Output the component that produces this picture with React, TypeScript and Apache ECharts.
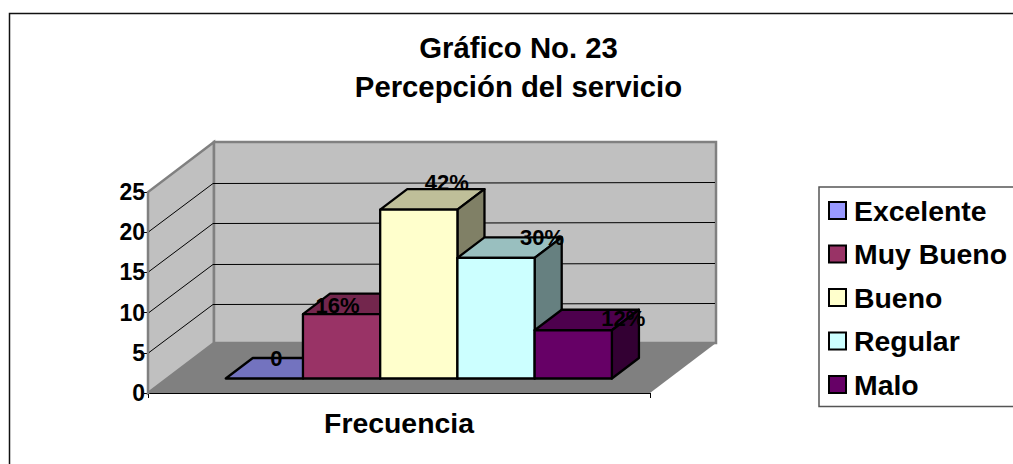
import React, { useEffect, useRef } from "react";
import * as echarts from "echarts";

const titleLines = ["Gráfico No. 23", "Percepción del servicio"];
const xCategories = ["Frecuencia"];
const categories = ["Excelente", "Muy Bueno", "Bueno", "Regular", "Malo"];
const frecuencia = [0, 8, 21, 15, 6];
const percentLabels = ["0", "16%", "42%", "30%", "12%"];
const yTicks = [0, 5, 10, 15, 20, 25];
const frontColors = ["#9999ff", "#993366", "#ffffcc", "#ccffff", "#660066"];
const topColors = ["#7373bf", "#73264d", "#bfbf99", "#99bfbf", "#4d004d"];
const sideColors = ["#4d4d80", "#4d1a33", "#808066", "#668080", "#330033"];
const labelOffsets = [[12, -20], [-4, -9], [28, -27], [46, -20], [50, -12]];

const FONT = "'Liberation Sans', Arial, sans-serif";
const DEPTH_X = 66;
const DEPTH_Y = -50;

function wallsRender(params: any, api: any) {
  const cs = params.coordSys;
  const x0 = cs.x;
  const x1 = cs.x + cs.width;
  const yB = api.coord([0, 0])[1];
  const yT = api.coord([0, 25])[1];
  const children: any[] = [
    {
      type: "polygon",
      shape: { points: [[x0, yB], [x0, yT], [x0 + DEPTH_X, yT + DEPTH_Y], [x0 + DEPTH_X, yB + DEPTH_Y]] },
      style: { fill: "#c0c0c0", stroke: "#808080", lineWidth: 2.5 },
    },
    {
      type: "polygon",
      shape: {
        points: [
          [x0 + DEPTH_X, yB + DEPTH_Y],
          [x0 + DEPTH_X, yT + DEPTH_Y],
          [x1 + DEPTH_X, yT + DEPTH_Y],
          [x1 + DEPTH_X, yB + DEPTH_Y],
        ],
      },
      style: { fill: "#c0c0c0", stroke: "#808080", lineWidth: 2.5 },
    },
    {
      type: "polygon",
      shape: { points: [[x0, yB], [x0 + DEPTH_X, yB + DEPTH_Y], [x1 + DEPTH_X, yB + DEPTH_Y], [x1, yB]] },
      style: { fill: "#808080", stroke: "none" },
    },
  ];
  yTicks.slice(1, -1).forEach((t) => {
    const y = Math.round(api.coord([0, t])[1]) + 0.5;
    children.push({
      type: "polyline",
      shape: { points: [[x0 + 1, y - 1], [x0 + DEPTH_X - 1, y + DEPTH_Y + 1], [x1 + DEPTH_X - 1, y + DEPTH_Y]] },
      style: { fill: "none", stroke: "#000", lineWidth: 1 },
    });
  });
  return { type: "group", children };
}

function barRender(index: number) {
  return (params: any, api: any) => {
    const catW = api.size([1, 0])[0];
    const barW = catW / 6.5;
    const center = api.coord([0, 0])[0];
    const base = api.coord([0, 0])[1] + DEPTH_Y * 0.29;
    const h = api.coord([0, 0])[1] - api.coord([0, api.value(1)])[1];
    const dx = DEPTH_X * 0.41;
    const dy = DEPTH_Y * 0.41;
    const l = center + DEPTH_X * 0.3 + (index - 2.5) * barW;
    const r = l + barW;
    const t = base - h;
    const edge = { stroke: "#000", lineWidth: 2.3, lineJoin: "round" };
    const children: any[] = [
      {
        type: "polygon",
        shape: { points: [[l, t], [l + dx, t + dy], [r + dx, t + dy], [r, t]] },
        style: { fill: topColors[index], ...edge },
      },
    ];
    if (h > 0) {
      children.push({
        type: "polygon",
        shape: { points: [[r, t], [r + dx, t + dy], [r + dx, base + dy], [r, base]] },
        style: { fill: sideColors[index], ...edge },
      });
    }
    children.push({
      type: "text",
      style: {
        text: percentLabels[index],
        x: (l + r) / 2 + labelOffsets[index][0],
        y: t + labelOffsets[index][1],
        align: "center",
        verticalAlign: "middle",
        fill: "#000",
        font: `bold 22px ${FONT}`,
      },
    });
    if (h > 0) {
      children.push({
        type: "polygon",
        shape: { points: [[l, t], [r, t], [r, base], [l, base]] },
        style: { fill: frontColors[index], ...edge },
      });
    }
    return { type: "group", children };
  };
}

export default function App() {
  const ref = useRef<HTMLDivElement>(null);
  useEffect(() => {
    const chart = echarts.init(ref.current!, undefined, { renderer: "svg" });
    chart.setOption({
      animation: false,
      backgroundColor: "#ffffff",
      title: {
        text: titleLines.join("\n"),
        left: 513.5,
        top: 23,
        textAlign: "center",
        textStyle: { fontFamily: FONT, fontWeight: "bold", fontSize: 29.3, lineHeight: 39, color: "#000" },
      },
      legend: {
        orient: "vertical",
        left: 819,
        top: 187,
        data: categories,
        icon: "rect",
        itemWidth: 17,
        itemHeight: 17,
        itemGap: 15.5,
        padding: [9.5, 20, 8, 9],
        borderColor: "#555",
        borderWidth: 1.5,
        backgroundColor: "#fff",
        selectedMode: false,
        itemStyle: { borderColor: "#000", borderWidth: 2 },
        textStyle: {
          fontFamily: FONT,
          fontWeight: "bold",
          fontSize: 28.4,
          color: "#000",
          padding: [0, 0, 0, 3],
        },
      },
      grid: { left: 148, top: 192, width: 502, height: 201 },
      xAxis: {
        type: "category",
        data: xCategories,
        axisLine: { lineStyle: { color: "#000", width: 1 } },
        axisTick: { show: true, length: 5, lineStyle: { color: "#000" } },
        axisLabel: { fontFamily: FONT, fontWeight: "bold", fontSize: 28.4, color: "#000", margin: 16 },
      },
      yAxis: {
        type: "value",
        min: 0,
        max: 25,
        interval: 5,
        axisLine: { show: true, lineStyle: { color: "#000", width: 1 } },
        axisTick: { show: true, length: 4, lineStyle: { color: "#000" } },
        axisLabel: { fontFamily: FONT, fontWeight: "bold", fontSize: 23, color: "#000", margin: 3 },
        splitLine: { show: false },
      },
      graphic: [
        {
          type: "rect",
          z: -10,
          silent: true,
          shape: { x: 9.5, y: 13.5, width: 1200, height: 700 },
          style: { fill: "none", stroke: "#111", lineWidth: 1.5 },
        },
      ],
      series: [
        {
          type: "custom",
          name: "walls",
          silent: true,
          clip: false,
          z: 1,
          data: [[0, 0]],
          encode: { x: 0, y: 1 },
          renderItem: wallsRender,
        },
        ...categories.map((name, i) => ({
          type: "custom",
          name,
          silent: true,
          clip: false,
          z: 2 + i,
          itemStyle: { color: frontColors[i] },
          data: [[0, frecuencia[i]]],
          encode: { x: 0, y: 1 },
          renderItem: barRender(i),
        })),
      ],
    });
    return () => chart.dispose();
  }, []);
  return (
    <div
      ref={ref}
      style={{ position: "fixed", left: 0, top: 0, width: 1013, height: 464, overflow: "hidden" }}
    />
  );
}
